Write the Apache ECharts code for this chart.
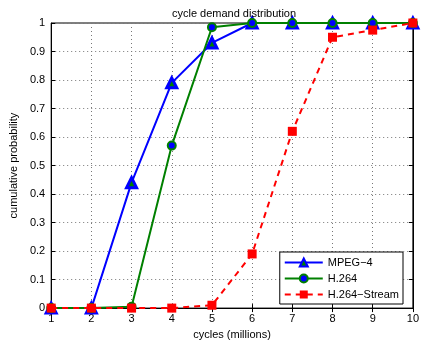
<!DOCTYPE html>
<html>
<head>
<meta charset="utf-8">
<script src="https://cdn.jsdelivr.net/npm/echarts@6/dist/echarts.min.js"></script>
<style>
  html, body { margin: 0; padding: 0; background: #fff; }
  #chart { width: 422px; height: 345px; }
</style>
</head>
<body>
<div id="chart"></div>
<script>
// x values (millions of cycles)
var cycles = [1, 2, 3, 4, 5, 6, 7, 8, 9, 10];
// cumulative probabilities
var mpeg4 = [0, 0, 0.44, 0.79, 0.93, 1, 1, 1, 1, 1];
var h264 = [0, 0, 0.005, 0.57, 0.985, 1, 1, 1, 1, 1];
var h264Stream = [0, 0, 0, 0, 0.01, 0.19, 0.62, 0.95, 0.975, 1];

function pairs(ys) {
  return cycles.map(function (x, i) { return [x, ys[i]]; });
}

var font = 'Liberation Sans, Arial, sans-serif';
var myChart = echarts.init(document.getElementById('chart'));

var option = {
  animation: false,
  textStyle: { fontFamily: font },
  title: {
    text: 'cycle demand distribution',
    left: 229, top: 3, textAlign: 'center',
    textStyle: { fontSize: 11, fontWeight: 'normal', color: '#000', fontFamily: font }
  },
  grid: {
    left: 43, right: 6, top: 23, bottom: 30,
    show: true, borderColor: '#000', borderWidth: 1, backgroundColor: '#fff'
  },
  legend: {
    right: 19, top: 252, orient: 'vertical',
    itemWidth: 38, itemHeight: 10, itemGap: 5,
    padding: [5, 4, 4, 4],
    backgroundColor: '#fff', borderColor: '#000', borderWidth: 1,
    textStyle: { fontSize: 11, color: '#000', fontFamily: font },
    data: ['MPEG\u22124', 'H.264', 'H.264\u2212Stream']
  },
  xAxis: [{
    type: 'value', min: 1, max: 10, interval: 1,
    name: 'cycles (millions)', nameLocation: 'middle', nameGap: 18,
    nameTextStyle: { fontSize: 11, color: '#000' },
    axisLine: { lineStyle: { color: '#000' } },
    axisTick: { inside: true, length: 4, lineStyle: { color: '#000' } },
    axisLabel: { fontSize: 11, color: '#000', margin: 5 },
    splitLine: { show: true, lineStyle: { color: '#777', type: [1, 3] } }
  }, {
    type: 'value', min: 1, max: 10, interval: 1, position: 'top',
    axisLine: { lineStyle: { color: '#000' } },
    axisTick: { inside: true, length: 4, lineStyle: { color: '#000' } },
    axisLabel: { show: false }, splitLine: { show: false }
  }],
  yAxis: [{
    type: 'value', min: 0, max: 1, interval: 0.1,
    name: 'cumulative probability', nameLocation: 'middle', nameGap: 30,
    nameTextStyle: { fontSize: 11, color: '#000' },
    axisLine: { show: true, lineStyle: { color: '#000' } },
    axisTick: { show: true, inside: true, length: 4, lineStyle: { color: '#000' } },
    axisLabel: {
      fontSize: 11, color: '#000', margin: 6,
      formatter: function (v) { return String(Math.round(v * 10) / 10); }
    },
    splitLine: { show: true, lineStyle: { color: '#777', type: [1, 3] } }
  }, {
    type: 'value', min: 0, max: 1, interval: 0.1, position: 'right',
    axisLine: { show: true, lineStyle: { color: '#000' } },
    axisTick: { show: true, inside: true, length: 4, lineStyle: { color: '#000' } },
    axisLabel: { show: false }, splitLine: { show: false }
  }],
  series: [{
    name: 'MPEG\u22124', type: 'line', data: pairs(mpeg4),
    symbol: 'triangle', symbolSize: 10,
    lineStyle: { color: '#0000ff', width: 2 },
    itemStyle: { color: '#008000', borderColor: '#0000ff', borderWidth: 3 },
    z: 3
  }, {
    name: 'H.264', type: 'line', data: pairs(h264),
    symbol: 'circle', symbolSize: 8,
    lineStyle: { color: '#008000', width: 2 },
    itemStyle: { color: '#0000ff', borderColor: '#008000', borderWidth: 2 },
    z: 4
  }, {
    name: 'H.264\u2212Stream', type: 'line', data: pairs(h264Stream),
    symbol: 'rect', symbolSize: 9,
    lineStyle: { color: '#ff0000', width: 2, type: [6, 5] },
    itemStyle: { color: '#ff0000', borderColor: '#ff0000', borderWidth: 0 },
    z: 5
  }]
};

myChart.setOption(option);
</script>
</body>
</html>
